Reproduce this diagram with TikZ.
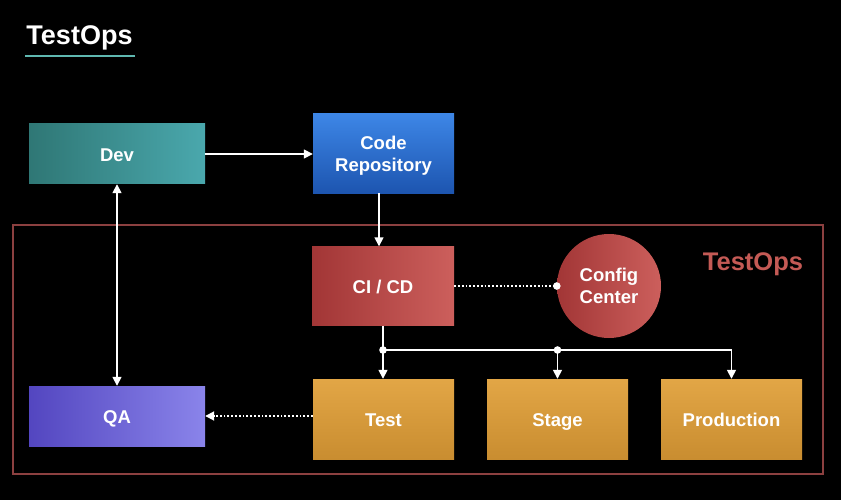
\documentclass[tikz,border=0pt]{standalone}
\usepackage{fontspec}
\setmainfont{Liberation Sans}
\usetikzlibrary{arrows.meta}
\definecolor{devL}{HTML}{2F7775}
\definecolor{devR}{HTML}{4AA8AD}
\definecolor{repoT}{HTML}{3D86E6}
\definecolor{repoB}{HTML}{1D55B0}
\definecolor{ciL}{HTML}{A23636}
\definecolor{ciR}{HTML}{CC5F5C}
\definecolor{orT}{HTML}{E2A646}
\definecolor{orB}{HTML}{C98D30}
\definecolor{qaL}{HTML}{5346C0}
\definecolor{qaR}{HTML}{8A84EA}
\definecolor{framecol}{HTML}{8C4040}
\definecolor{labelcol}{HTML}{C45A55}
\definecolor{ulcol}{HTML}{5FB8B0}
\tikzset{
  box/.style={inner sep=0pt, text=white, font=\fontsize{18.5}{22}\selectfont\bfseries, align=center},
  onebox/.style={box, text height=16pt, text depth=2pt},
  envbox/.style={onebox, top color=orT, bottom color=orB, minimum width=141pt, minimum height=80pt},
  tip/.style={-{Triangle[length=9pt,width=9pt]}},
  arr/.style={draw=white, line width=1.6pt, tip},
  line/.style={draw=white, line width=1.6pt},
  dotline/.style={draw=white, line width=1.8pt, dotted},
}
\begin{document}
\begin{tikzpicture}[x=1pt,y=-1pt]
\fill[black] (0,0) rectangle (841,500);
\useasboundingbox (0,0) rectangle (841,500);
% title
\node[text=white, font=\fontsize{27}{30}\selectfont\bfseries] (title) at (79.5,37.5) {TestOps};
\coordinate (ulL) at (25,56);
\coordinate (ulR) at (135,56);
\draw[ulcol, line width=1.5pt] (ulL) -- (ulR);
% frame
\node[draw=framecol, line width=2pt, minimum width=810pt, minimum height=249pt, inner sep=0pt] (frame) at (418,349.5) {};
\node[text=labelcol, font=\fontsize{25.5}{28}\selectfont\bfseries] (framelabel) at (753,264) {TestOps};
% boxes
\node[onebox, left color=devL, right color=devR, minimum width=176pt, minimum height=60pt] (dev) at (117,154) {Dev};
\node[box, text depth=0pt, top color=repoT, bottom color=repoB, minimum width=141pt, minimum height=79pt] (repo) at (383.5,153.5) {Code\\Repository};
\node[onebox, left color=ciL, right color=ciR, minimum width=142pt, minimum height=79pt] (cicd) at (383,286) {CI / CD};
\node[box, circle, left color=ciL, right color=ciR, minimum size=104pt] (config) at (609,286) {Config\\Center};
\node[envbox] (test) at (383.5,419) {Test};
\node[envbox] (stage) at (557.5,419) {Stage};
\node[envbox] (prod) at (731.5,419) {Production};
\node[onebox, left color=qaL, right color=qaR, minimum width=176pt, minimum height=60pt] (qa) at (117,416) {QA};
% connectors
\draw[arr] (dev.east) -- (repo.west |- dev.east);
\coordinate (rs) at (379,193);
\draw[arr] (rs) -- (rs |- cicd.north);
\draw[arr, {Triangle[length=9pt,width=9pt]}-{Triangle[length=9pt,width=9pt]}] (dev.south) -- (qa.north);
\draw[dotline] (cicd.east) -- (config.west);
\fill[white] (config.west) circle (3.8pt);
\coordinate (j1) at (383,350);
\coordinate (j2) at (stage.north |- j1);
\coordinate (j3) at (prod.north |- j1);
\draw[line] (cicd.south) -- (j1);
\draw[line] (j1) -- (j3);
\draw[arr] (j1) -- (j1 |- test.north);
\draw[arr] (j2) -- (stage.north);
\draw[arr] (j3) -- (prod.north);
\fill[white] (j1) circle (3.8pt);
\fill[white] (j2) circle (3.8pt);
\draw[dotline, tip] (test.west |- qa.east) -- (qa.east);
\end{tikzpicture}
\end{document}
